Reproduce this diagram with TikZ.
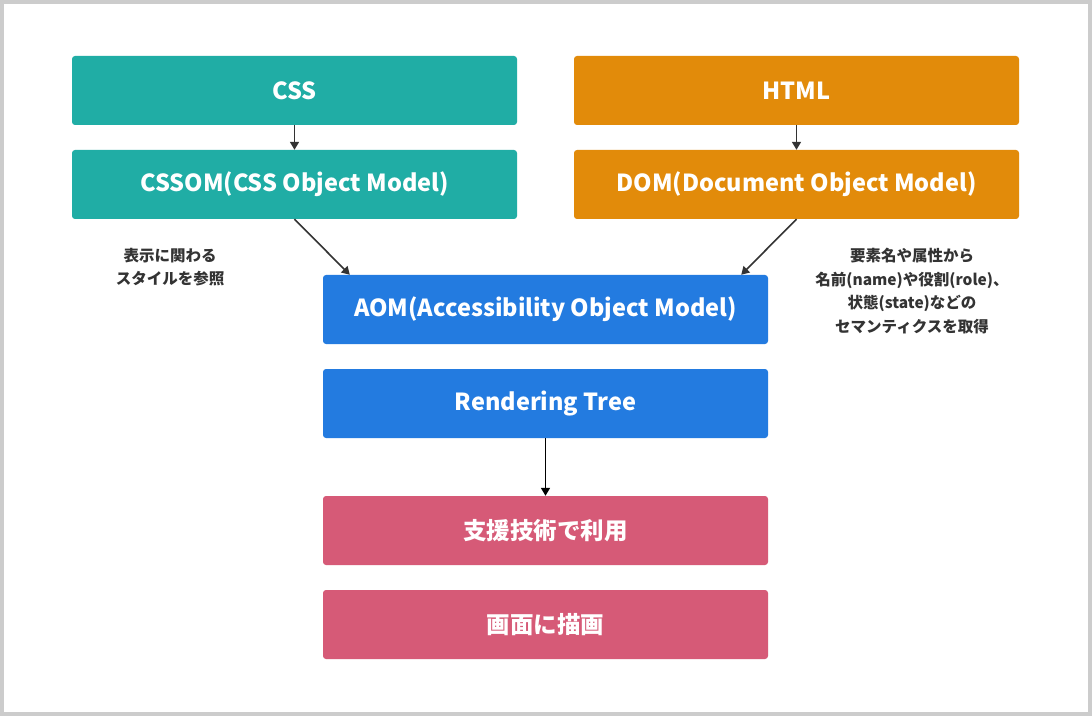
\documentclass[tikz,border=0pt]{standalone}
\usepackage{fontspec}
\setmainfont{Noto Sans CJK JP}
\usetikzlibrary{arrows.meta,positioning}

\definecolor{framecol}{HTML}{CCCCCC}
\definecolor{csscol}{HTML}{20ADA5}
\definecolor{htmlcol}{HTML}{E28B0A}
\definecolor{aomcol}{HTML}{237BE0}
\definecolor{usecol}{HTML}{D65A77}
\definecolor{notecol}{HTML}{333333}

\begin{document}
\begin{tikzpicture}[x=1pt, y=1pt, node distance=94pt, on grid,
    box/.style={rectangle, rounded corners=3pt, minimum width=445pt, minimum height=69pt,
      text=white, font=\bfseries\fontsize{23.5}{28}\selectfont},
    note/.style={align=center, text=notecol, font=\bfseries\fontsize{15.5}{23.5}\selectfont},
    flow/.style={-{Triangle[length=8pt,width=9pt]}, line width=1.6pt, draw=notecol}]
    \fill[framecol] (0,0) rectangle (1092,716);
    \fill[white] (4,4) rectangle (1088,712);
    % sources
    \node[box, fill=csscol] (css) at (294.5,625.5) {CSS};
    \node[box, fill=csscol, below=of css] (cssom) {CSSOM(CSS Object Model)};
    \node[box, fill=htmlcol, right=502pt of css] (html) {HTML};
    \node[box, fill=htmlcol, below=of html] (dom) {DOM(Document Object Model)};
    % merged trees
    \node[box, fill=aomcol, below right=125pt and 251pt of cssom] (aom) {AOM(Accessibility Object Model)};
    \node[box, fill=aomcol, below=of aom] (render) {Rendering Tree};
    % outputs
    \node[box, fill=usecol, below=127pt of render] (assist) {支援技術で利用};
    \node[box, fill=usecol, below=of assist] (screen) {画面に描画};
    % notes
    \node[note, below left=82.5pt and 124.5pt of cssom] (cssnote) {表示に関わる\\スタイルを参照};
    \node[note, below right=106.5pt and 115.5pt of dom] (domnote) {要素名や属性から\\名前(name)や役割(role)、\\状態(state)などの\\セマンティクスを取得};
    \draw[flow] (css) -- (cssom);
    \draw[flow] (html) -- (dom);
    \draw[flow] (cssom.south) -- ([xshift=27pt]aom.north west);
    \draw[flow] (dom.south) -- ([xshift=-27pt]aom.north east);
    \draw[flow, draw=black] (render) -- (assist);
\end{tikzpicture}
\end{document}
